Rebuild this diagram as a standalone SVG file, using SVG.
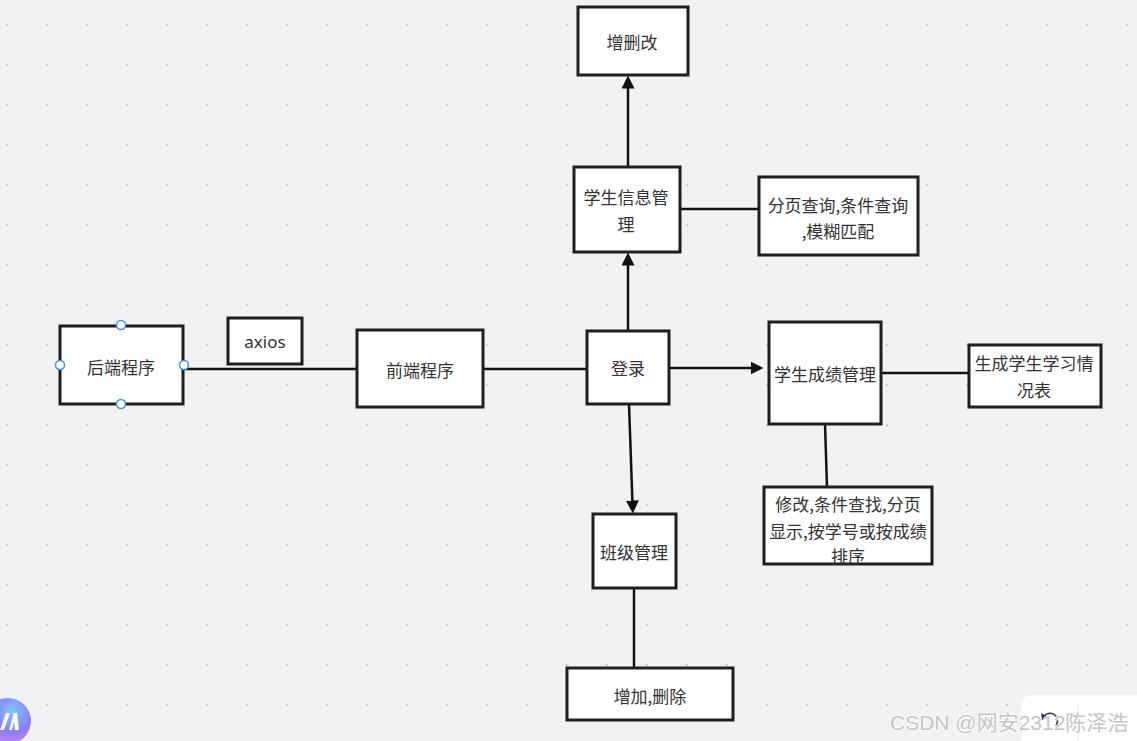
<svg xmlns="http://www.w3.org/2000/svg" width="1137" height="741" viewBox="0 0 1137 741">
<style>
.box{fill:#fff;stroke:#1f1f1f;stroke-width:3}
.t{font-family:"Noto Sans CJK SC","Noto Sans",sans-serif;font-size:17px;fill:#333;text-anchor:middle;dominant-baseline:central}
.ln{stroke:#111;stroke-width:2.5;fill:none}
.arr{marker-end:url(#ah)}
.hd{fill:#fff;stroke:#3d8ef5;stroke-width:1.5}
.wm{font-family:"Liberation Sans","Noto Sans CJK SC",sans-serif;font-size:21px;fill:#c4c4c4;stroke:#fff;stroke-width:1.5;paint-order:stroke}
</style>
<defs>
<pattern id="dots" x="6" y="24" width="40" height="40" patternUnits="userSpaceOnUse">
<rect x="0" y="0" width="2" height="2" fill="#cacaca"/>
</pattern>
<marker id="ah" markerUnits="userSpaceOnUse" markerWidth="14" markerHeight="14" refX="0.5" refY="6.5" orient="auto">
<path d="M0,0 L13,6.5 L0,13 z" fill="#111"/>
</marker>
<radialGradient id="lg" cx="0.6" cy="0.3" r="0.8">
<stop offset="0" stop-color="#7fc8ff"/>
<stop offset="0.55" stop-color="#8a7cf5"/>
<stop offset="1" stop-color="#d38df0"/>
</radialGradient>
</defs>
<rect width="1137" height="741" fill="#f2f2f4"/>
<rect width="1137" height="741" fill="url(#dots)"/>

<g id="connectors">
<line class="ln arr" x1="628" y1="167" x2="628" y2="88"/>
<line class="ln arr" x1="628" y1="331" x2="628" y2="265"/>
<line class="ln arr" x1="669" y1="368" x2="751" y2="368"/>
<line class="ln arr" x1="629" y1="404" x2="632.4" y2="501"/>
<line class="ln" x1="184" y1="369" x2="357" y2="369"/>
<line class="ln" x1="483" y1="369" x2="587" y2="369"/>
<line class="ln" x1="680" y1="209" x2="759" y2="209"/>
<line class="ln" x1="881" y1="373" x2="969" y2="373"/>
<line class="ln" x1="825" y1="424" x2="827" y2="487"/>
<line class="ln" x1="634" y1="588" x2="634" y2="668"/>
</g>

<g id="n-backend">
<rect class="box" x="60" y="326" width="123" height="78"/>
<text class="t" x="121" y="366">后端程序</text>
<circle class="hd" cx="121" cy="325" r="4.5"/>
<circle class="hd" cx="121" cy="404" r="4.5"/>
<circle class="hd" cx="60" cy="365" r="4.5"/>
<circle class="hd" cx="184" cy="365" r="4.5"/>
</g>
<g id="n-axios">
<rect class="box" x="228" y="318" width="74" height="46"/>
<text class="t" x="265" y="341" style="font-family:'Noto Sans',sans-serif">axios</text>
</g>
<g id="n-frontend">
<rect class="box" x="357" y="330" width="126" height="77"/>
<text class="t" x="420" y="369">前端程序</text>
</g>
<g id="n-login">
<rect class="box" x="587" y="331" width="82" height="73"/>
<text class="t" x="628" y="367">登录</text>
</g>
<g id="n-score">
<rect class="box" x="769" y="322" width="112" height="102"/>
<text class="t" x="825" y="373">学生成绩管理</text>
</g>
<g id="n-report">
<rect class="box" x="969" y="345" width="132" height="62"/>
<text class="t" x="1034" y="362">生成学生学习情</text>
<text class="t" x="1034" y="389">况表</text>
</g>
<g id="n-info">
<rect class="box" x="574" y="167" width="106" height="85"/>
<text class="t" x="626" y="196">学生信息管</text>
<text class="t" x="626" y="223">理</text>
</g>
<g id="n-query">
<rect class="box" x="759" y="177" width="159" height="78"/>
<text class="t" x="838" y="204">分页查询,条件查询</text>
<text class="t" x="838" y="230">,模糊匹配</text>
</g>
<g id="n-crud">
<rect class="box" x="578" y="7" width="110" height="68"/>
<text class="t" x="632" y="41">增删改</text>
</g>
<g id="n-class">
<rect class="box" x="593" y="514" width="83" height="74"/>
<text class="t" x="634" y="551">班级管理</text>
</g>
<g id="n-modify">
<rect class="box" x="764" y="487" width="168" height="77"/>
<text class="t" x="848" y="503">修改,条件查找,分页</text>
<text class="t" x="848" y="530">显示,按学号或按成绩</text>
<text class="t" x="848" y="555">排序</text>
</g>
<g id="n-add">
<rect class="box" x="567" y="668" width="166" height="52"/>
<text class="t" x="650" y="695">增加,删除</text>
</g>

<g id="overlay">
<circle cx="8" cy="721" r="23" fill="url(#lg)"/>
<path d="M0,730 L6,713 L10,713 L4,730 z M9,730 L14,713 L17,713 L19,730 L15,730 L14,722 L12,730 z" fill="#fff" opacity="0.95"/>
<rect x="1022" y="695" width="130" height="60" rx="9" fill="#fff"/>
<line x1="1078" y1="705" x2="1078" y2="741" stroke="#e4e4e4" stroke-width="1"/>
<path d="M1043,717 Q1050,710 1056,716 Q1059,721 1056,726" fill="none" stroke="#333" stroke-width="1.6"/>
<path d="M1041,713 L1042,720 L1048,717 z" fill="#333"/>
<text class="wm" x="890" y="730">CSDN @网安2312陈泽浩</text>
</g>
</svg>
